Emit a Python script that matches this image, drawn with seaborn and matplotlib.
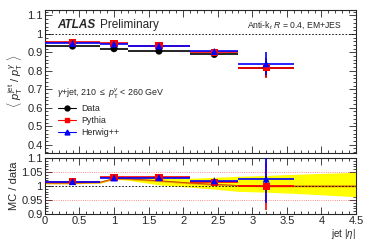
import numpy as np
import pandas as pd
import matplotlib
matplotlib.use("Agg")
import matplotlib.pyplot as plt
import seaborn as sns
from matplotlib.ticker import MultipleLocator

sns.set_theme(style="ticks")
plt.rcParams['font.family'] = ['Liberation Sans', 'DejaVu Sans']
plt.rcParams['mathtext.fontset'] = 'custom'
plt.rcParams['mathtext.rm'] = 'Liberation Sans'
plt.rcParams['mathtext.it'] = 'Liberation Sans:italic'

# bins in jet |eta|
bin_edges = [0.0, 0.8, 1.2, 2.1, 2.8, 3.6]
bin_centers = [0.4, 1.0, 1.65, 2.45, 3.2]

# <pT jet / pT gamma>
data_vals = [0.934, 0.920, 0.907, 0.889, 0.817]
data_err = [0.003, 0.003, 0.003, 0.004, 0.050]
pythia_vals = [0.954, 0.948, 0.935, 0.900, 0.817]
pythia_err = [0.004, 0.004, 0.004, 0.006, 0.055]
herwig_vals = [0.949, 0.945, 0.935, 0.905, 0.838]
herwig_err = [0.004, 0.004, 0.004, 0.006, 0.063]

# MC / data
pythia_ratio = [1.016, 1.031, 1.031, 1.013, 0.999]
pythia_ratio_err = [0.003, 0.003, 0.003, 0.005, 0.086]
herwig_ratio = [1.016, 1.029, 1.030, 1.019, 1.025]
herwig_ratio_err = [0.003, 0.003, 0.003, 0.005, 0.087]

# systematic band in ratio panel
band_x = [0.0, 0.4, 0.8, 1.0, 1.2, 1.65, 2.1, 2.45, 2.8, 3.2, 3.6, 4.5]
band_mid = [1.011, 1.011, 1.014, 1.027, 1.026, 1.019, 1.011, 1.006, 1.002, 1.000, 1.000, 1.000]
band_up = [1.013, 1.013, 1.017, 1.030, 1.031, 1.030, 1.028, 1.031, 1.035, 1.038, 1.042, 1.049]
band_dn = [1.009, 1.009, 1.011, 1.024, 1.021, 1.004, 0.996, 0.989, 0.981, 0.978, 0.974, 0.962]

xerr_lr = [[c - bin_edges[i] for i, c in enumerate(bin_centers)],
           [bin_edges[i + 1] - c for i, c in enumerate(bin_centers)]]

top = pd.DataFrame({
    'eta': bin_centers * 3,
    'val': data_vals + pythia_vals + herwig_vals,
    'sample': ['Data'] * 5 + ['Pythia'] * 5 + ['Herwig++'] * 5,
})
bot = pd.DataFrame({
    'eta': bin_centers * 2,
    'val': pythia_ratio + herwig_ratio,
    'sample': ['Pythia'] * 5 + ['Herwig++'] * 5,
})

colors = {'Data': 'black', 'Pythia': 'red', 'Herwig++': 'blue'}
markers = {'Data': 'o', 'Pythia': 's', 'Herwig++': '^'}

fig = plt.figure(figsize=(3.74, 2.41), dpi=100)
ax1 = fig.add_axes([0.120, 0.365, 0.832, 0.594])
ax2 = fig.add_axes([0.120, 0.112, 0.832, 0.232])

# top panel
ax1.axhline(1.0, color='black', ls=(0, (2, 2)), lw=0.6)
for name, vals, errs in [('Data', data_vals, data_err),
                         ('Pythia', pythia_vals, pythia_err),
                         ('Herwig++', herwig_vals, herwig_err)]:
    ax1.errorbar(bin_centers, vals, xerr=xerr_lr, yerr=errs, fmt='none',
                 ecolor=colors[name], elinewidth=1.2, capsize=0, zorder=3)
sns.scatterplot(data=top, x='eta', y='val', hue='sample', style='sample',
                palette=colors, markers=markers, s=26, edgecolor='none',
                legend=False, ax=ax1, zorder=4)

# legend entries drawn as line + marker
for name in ['Data', 'Pythia', 'Herwig++']:
    ax1.plot([], [], color=colors[name], marker=markers[name], ms=3.5,
             lw=0.8, label=name)
ax1.legend(loc='upper left', bbox_to_anchor=(0.03, 0.365), frameon=False,
           fontsize=6.4, handlelength=2.0, handletextpad=0.6,
           labelspacing=0.3, borderaxespad=0)

ax1.text(0.04, 0.895, 'ATLAS', transform=ax1.transAxes, fontsize=8.5,
         fontweight='bold', fontstyle='italic', va='center')
ax1.text(0.178, 0.895, 'Preliminary', transform=ax1.transAxes, fontsize=8.5,
         va='center')
ax1.text(0.955, 0.895, r'Anti-k$_{t}$ $R$ = 0.4, EM+JES',
         transform=ax1.transAxes, fontsize=6.2, va='center', ha='right')
ax1.text(0.04, 0.415,
         r'$\gamma$+jet, 210 $\leq$ $p_{\mathrm{T}}^{\gamma}$ < 260 GeV',
         transform=ax1.transAxes, fontsize=6.4, va='center')

ax1.set_xlim(0, 4.5)
ax1.set_ylim(0.355, 1.13)
ax1.set_yticks([0.4, 0.5, 0.6, 0.7, 0.8, 0.9, 1.0, 1.1])
ax1.set_yticklabels(['0.4', '0.5', '0.6', '0.7', '0.8', '0.9', '1', '1.1'])
ax1.yaxis.set_minor_locator(MultipleLocator(0.02))
ax1.xaxis.set_major_locator(MultipleLocator(0.5))
ax1.xaxis.set_minor_locator(MultipleLocator(0.1))
ax1.tick_params(labelbottom=False)
ax1.set_xlabel('')
ax1.set_ylabel(r'$\langle\ p_{\mathrm{T}}^{\mathrm{jet}}\ /\ p_{\mathrm{T}}^{\gamma}\ \rangle$',
               fontsize=8, labelpad=2)

# ratio panel
ax2.fill_between(band_x, band_dn, band_up, color='#ffff00', lw=0, zorder=1)
ax2.fill_between(band_x, np.array(band_mid) - 0.003, np.array(band_mid) + 0.003,
                 color='#f0a000', lw=0, zorder=1.5)
ax2.plot(band_x, band_mid, color='#c04000', lw=0.6, zorder=1.6)
ax2.axhline(1.0, color='black', ls=(0, (2, 2)), lw=0.6, zorder=2)
ax2.axhline(1.05, color='red', ls=':', lw=0.6, alpha=0.6, zorder=2)
ax2.axhline(0.95, color='red', ls=':', lw=0.6, alpha=0.6, zorder=2)
ax2.errorbar(bin_centers, pythia_ratio, xerr=xerr_lr, yerr=pythia_ratio_err,
             fmt='none', ecolor='red', elinewidth=1.2, capsize=0, zorder=3)
ax2.errorbar(bin_centers, herwig_ratio, xerr=xerr_lr, yerr=herwig_ratio_err,
             fmt='none', ecolor='blue', elinewidth=1.2, capsize=0, zorder=3)
sns.scatterplot(data=bot, x='eta', y='val', hue='sample', style='sample',
                palette=colors, markers=markers, s=26, edgecolor='none',
                legend=False, ax=ax2, zorder=4)

ax2.set_xlim(0, 4.5)
ax2.set_ylim(0.9, 1.1)
ax2.set_yticks([0.9, 0.95, 1.0, 1.05, 1.1])
ax2.set_yticklabels(['0.9', '0.95', '1', '1.05', '1.1'])
ax2.yaxis.set_minor_locator(MultipleLocator(0.01))
ax2.set_xticks([0, 0.5, 1, 1.5, 2, 2.5, 3, 3.5, 4, 4.5])
ax2.set_xticklabels(['0', '0.5', '1', '1.5', '2', '2.5', '3', '3.5', '4', '4.5'])
ax2.xaxis.set_minor_locator(MultipleLocator(0.1))
ax2.set_ylabel('MC / data', fontsize=8, labelpad=2)
ax2.set_xlabel(r'jet |$\eta$|', fontsize=7, loc='right', labelpad=1)

for ax in (ax1, ax2):
    ax.tick_params(which='both', direction='in', top=True, right=True,
                   labelsize=8, pad=1.5, width=0.6)
    ax.tick_params(which='major', length=5)
    ax.tick_params(which='minor', length=2.5)
    for sp in ax.spines.values():
        sp.set_linewidth(0.8)

fig.savefig('out.png', dpi=100)
